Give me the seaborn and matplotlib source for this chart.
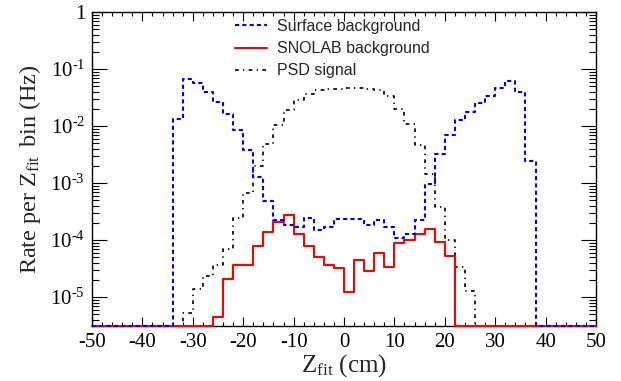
import numpy as np
import pandas as pd
import matplotlib
matplotlib.use("Agg")
import matplotlib.pyplot as plt
import seaborn as sns
from matplotlib.ticker import MultipleLocator, FixedLocator, FixedFormatter, LogLocator, NullFormatter

# ---- data: 2 cm bins from -50 to 50 cm (lower bin edges) ----
bin_low = [-50, -48, -46, -44, -42, -40, -38, -36, -34, -32, -30, -28, -26, -24, -22, -20,
           -18, -16, -14, -12, -10, -8, -6, -4, -2, 0, 2, 4, 6, 8, 10, 12, 14, 16, 18, 20,
           22, 24, 26, 28, 30, 32, 34, 36, 38, 40, 42, 44, 46, 48]
bin_width = 2

surface_bkg = [0, 0, 0, 0, 0, 0, 0, 0,
               1.33e-2, 6.7e-2, 5.7e-2, 3.9e-2, 2.6e-2, 1.6e-2, 8.5e-3, 3.8e-3,
               1.26e-3, 4.8e-4, 2.2e-4, 1.8e-4, 1.7e-4, 2.4e-4, 1.5e-4, 1.7e-4,
               2.3e-4, 2.3e-4, 2.3e-4, 1.8e-4, 2.2e-4, 1.7e-4, 1.1e-4, 1.26e-4,
               2.2e-4, 9.6e-4, 3.2e-3, 6.9e-3, 1.28e-2, 1.78e-2, 2.5e-2, 3.3e-2,
               4.6e-2, 6.2e-2, 4.0e-2, 2.4e-3,
               0, 0, 0, 0, 0, 0]

snolab_bkg = [0, 0, 0, 0, 0, 0, 0, 0, 0, 0, 0, 0,
              4.5e-6, 2.1e-5, 3.6e-5, 3.6e-5, 7.9e-5, 1.36e-4, 2.1e-4, 2.75e-4,
              1.26e-4, 7.9e-5, 5.0e-5, 3.6e-5, 3.2e-5, 1.2e-5, 4.5e-5, 2.9e-5,
              6.0e-5, 3.4e-5, 8.7e-5, 1.0e-4, 1.3e-4, 1.55e-4, 9.4e-5, 5.2e-5,
              0, 0, 0, 0, 0, 0, 0, 0, 0, 0, 0, 0, 0, 0]

psd_signal = [0, 0, 0, 0, 0, 0, 0, 0, 0,
              5.3e-6, 1.4e-5, 2.3e-5, 3.6e-5, 6.9e-5, 2.4e-4, 6.6e-4, 1.95e-3,
              4.8e-3, 1.04e-2, 1.9e-2, 2.9e-2, 3.7e-2, 4.3e-2, 4.5e-2, 4.5e-2,
              4.6e-2, 4.6e-2, 4.5e-2, 4.2e-2, 3.4e-2, 2.0e-2, 1.1e-2, 4.6e-3,
              1.45e-3, 3.8e-4, 1.0e-4, 3.3e-5, 1.3e-5,
              0, 0, 0, 0, 0, 0, 0, 0, 0, 0, 0, 0]

series_names = ["Surface background", "SNOLAB background", "PSD signal"]
x_ticks = [-50, -40, -30, -20, -10, 0, 10, 20, 30, 40, 50]
y_ticks = [1e-5, 1e-4, 1e-3, 1e-2, 1e-1, 1]
y_tick_labels = [r"$10^{\text{-}5}$", r"$10^{\text{-}4}$", r"$10^{\text{-}3}$",
                 r"$10^{\text{-}2}$", r"$10^{\text{-}1}$", "1"]

# ---- style ----
sns.set_style("ticks")
plt.rcParams.update({
    "font.family": ["Liberation Serif", "DejaVu Serif"],
    "mathtext.fontset": "custom",
    "mathtext.rm": "Liberation Serif",
    "mathtext.it": "Liberation Serif:italic",
    "mathtext.bf": "Liberation Serif:bold",
    "axes.linewidth": 1.0,
    "axes.unicode_minus": False,
})

W, H = 621, 381
fig = plt.figure(figsize=(W / 100, H / 100), dpi=100)
ax = fig.add_axes([92 / W, 1 - 326 / H, (596 - 92) / W, (326 - 12) / H])

y_bottom, y_top = 3.1e-6, 1.0
edges = np.append(np.array(bin_low, float), bin_low[-1] + bin_width)

styles = {
    "PSD signal": dict(color="#000000", lw=1.2, linestyle=(0, (2.2, 2.6, 0.8, 2.6)), zorder=2.7),
    "SNOLAB background": dict(color="#ff0000", lw=1.5, linestyle="-", zorder=3),
    "Surface background": dict(color="#0000ff", lw=1.5, linestyle=(0, (2.0, 1.5)), zorder=4),
}
data = {"Surface background": surface_bkg, "SNOLAB background": snolab_bkg, "PSD signal": psd_signal}

for name in ["PSD signal", "SNOLAB background", "Surface background"]:
    v = np.array(data[name], float)
    v = np.where(v > 0, v, y_bottom)   # empty bins drawn on the frame bottom
    y = np.append(v, v[-1])
    df = pd.DataFrame({"z": edges, "rate": y})
    st = styles[name]
    sns.lineplot(data=df, x="z", y="rate", ax=ax, drawstyle="steps-post",
                 color=st["color"], linewidth=st["lw"], linestyle=st["linestyle"],
                 zorder=st["zorder"], label=name, estimator=None, sort=False,
                 clip_on=False)

ax.set_yscale("log")
ax.set_xlim(-50, 50)
ax.set_ylim(y_bottom, y_top)

ax.xaxis.set_major_locator(FixedLocator(x_ticks))
ax.xaxis.set_minor_locator(MultipleLocator(2))
ax.yaxis.set_major_locator(FixedLocator(y_ticks))
ax.yaxis.set_major_formatter(FixedFormatter(y_tick_labels))
ax.yaxis.set_minor_locator(LogLocator(base=10, subs=np.arange(2, 10)))
ax.yaxis.set_minor_formatter(NullFormatter())

ax.tick_params(which="both", direction="in", top=True, right=True, width=0.8, colors="black")
ax.tick_params(axis="x", which="major", length=6.5, labelsize=15, pad=5)
ax.tick_params(axis="x", which="minor", length=3.2)
ax.tick_params(axis="y", which="major", length=10.5, labelsize=15, pad=5)
ax.tick_params(axis="y", which="minor", length=5.3)
for sp in ax.spines.values():
    sp.set_color("black")

ax.set_xlabel(r"$\mathrm{Z}_{\mathrm{fit}}$ (cm)", fontsize=18, labelpad=0)
ax.set_ylabel(r"Rate per $\mathrm{Z}_{\mathrm{fit}}\,$ bin (Hz)", fontsize=17.5, labelpad=5)

h, l = ax.get_legend_handles_labels()
order = [l.index(n) for n in series_names]
ax.legend([h[i] for i in order], [l[i] for i in order],
          loc="upper left", bbox_to_anchor=(235 / W, 1 - 19 / H), bbox_transform=fig.transFigure,
          frameon=False, prop={"family": "Liberation Sans", "size": 11.5},
          handlelength=2.0, handletextpad=0.62, labelspacing=0.45, borderpad=0, borderaxespad=0)

fig.savefig("out.png", dpi=100)
